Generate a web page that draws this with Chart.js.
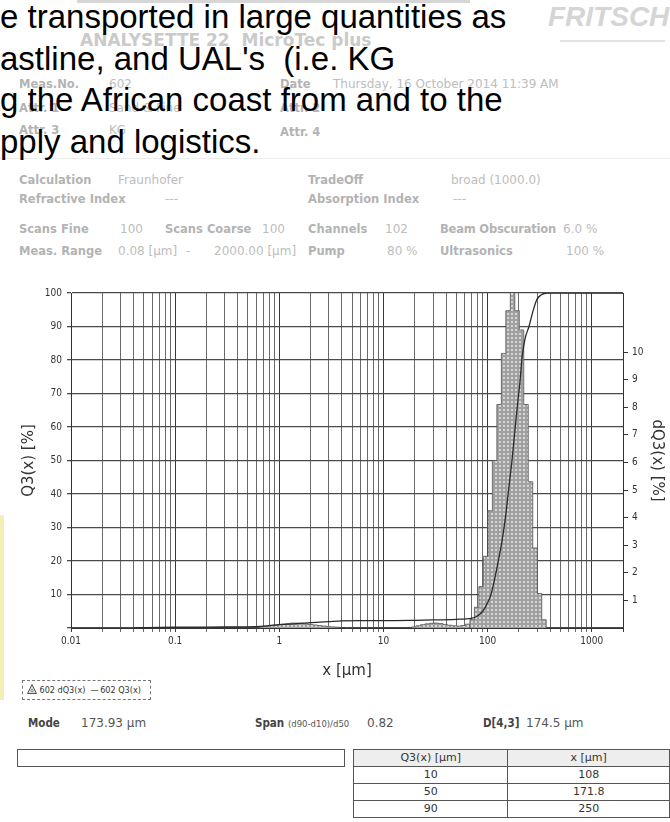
<!DOCTYPE html>
<html><head><meta charset="utf-8">
<script src="https://cdn.jsdelivr.net/npm/chart.js@4.4.0/dist/chart.umd.min.js"></script>
<style>
html,body{margin:0;padding:0;background:#fff;}
body{width:670px;height:822px;position:relative;overflow:hidden;font-family:"DejaVu Sans",sans-serif;}
.a{position:absolute;white-space:nowrap;line-height:14px;}
.lb{font-weight:bold;color:#b3b3b3;font-size:11.5px;}
.vl{color:#bdbdbd;font-size:12px;}
.bl{font-family:"DejaVu Sans Condensed","DejaVu Sans",sans-serif;font-weight:bold;color:#444;font-size:11.5px;}
.bv{color:#555;font-size:12px;}
#ov{position:absolute;left:0;top:-4px;font-family:"Liberation Sans",Arial,sans-serif;font-size:33px;line-height:41.5px;color:#000;z-index:5;white-space:nowrap;}
table{border-collapse:collapse;}
td{border:1px solid #555;text-align:center;font-size:11px;color:#333;height:16px;padding:0;}
</style></head>
<body>
<!-- faded report header -->
<div class="a" style="left:77px;top:0;width:393px;height:3px;background:#d6d6d6;"></div>
<div class="a" style="left:548px;top:1px;font:italic bold 28px 'Liberation Sans',Arial,sans-serif;color:#d5d5d5;line-height:32px;">FRITSCH</div>
<div class="a" style="left:560px;top:40px;width:105px;height:2px;background:#e2e2e2;"></div>
<div class="a" style="left:80px;top:30px;font-weight:bold;font-size:17px;color:#cacaca;line-height:20px;">ANALYSETTE 22&nbsp; MicroTec plus</div>

<div class="a lb" style="left:19px;top:77px;">Meas.No.</div><div class="a vl" style="left:109px;top:77px;">602</div>
<div class="a lb" style="left:280px;top:77px;">Date</div><div class="a vl" style="left:333px;top:77px;">Thursday, 16 October 2014 11:39 AM</div>
<div class="a lb" style="left:19px;top:101px;">Attr. 1</div><div class="a vl" style="left:109px;top:101px;">Sand &amp; Fine</div>
<div class="a lb" style="left:280px;top:101px;">Attr. 2</div>
<div class="a lb" style="left:19px;top:123px;">Attr. 3</div><div class="a vl" style="left:109px;top:123px;">KG</div>
<div class="a lb" style="left:280px;top:125px;">Attr. 4</div>
<div class="a" style="left:0;top:158px;width:670px;height:1px;background:#ececec;"></div>

<div class="a lb" style="left:19px;top:173px;">Calculation</div><div class="a vl" style="left:118px;top:173px;">Fraunhofer</div>
<div class="a lb" style="left:308px;top:173px;">TradeOff</div><div class="a vl" style="left:451px;top:173px;">broad (1000.0)</div>
<div class="a lb" style="left:19px;top:192px;">Refractive Index</div><div class="a vl" style="left:165px;top:192px;">---</div>
<div class="a lb" style="left:308px;top:192px;">Absorption Index</div><div class="a vl" style="left:453px;top:192px;">---</div>

<div class="a lb" style="left:19px;top:222px;">Scans Fine</div><div class="a vl" style="left:120px;top:222px;">100</div>
<div class="a lb" style="left:165px;top:222px;">Scans Coarse</div><div class="a vl" style="left:262px;top:222px;">100</div>
<div class="a lb" style="left:308px;top:222px;">Channels</div><div class="a vl" style="left:385px;top:222px;">102</div>
<div class="a lb" style="left:440px;top:222px;letter-spacing:-0.2px;">Beam Obscuration</div><div class="a vl" style="left:563px;top:222px;">6.0 %</div>
<div class="a lb" style="left:19px;top:244px;">Meas. Range</div><div class="a vl" style="left:118px;top:244px;">0.08 [µm]</div>
<div class="a vl" style="left:186px;top:244px;">-</div><div class="a vl" style="left:214px;top:244px;">2000.00 [µm]</div>
<div class="a lb" style="left:308px;top:244px;">Pump</div><div class="a vl" style="left:387px;top:244px;">80 %</div>
<div class="a lb" style="left:440px;top:244px;">Ultrasonics</div><div class="a vl" style="left:566px;top:244px;">100 %</div>

<!-- overlay slide text -->
<div id="ov">e transported in large quantities as<br>astline, and UAL's&nbsp; (i.e. KG<br>g the African coast from and to the<br>pply and logistics.</div>

<div class="a" style="left:0;top:515px;width:4px;height:185px;background:#f4efb4;"></div>

<canvas id="c" width="670" height="410" style="position:absolute;left:0;top:270px;width:670px;height:410px;"></canvas>

<!-- legend -->
<div class="a" style="left:22px;top:680px;width:123px;height:18px;border:1px dashed #777;font-family:'DejaVu Sans Condensed','DejaVu Sans',sans-serif;font-size:9px;color:#333;line-height:18px;padding-left:4px;">
<svg width="10" height="10" style="vertical-align:-1px"><polygon points="5,0.5 9.5,9.5 0.5,9.5" fill="#ddd" stroke="#555" stroke-width="1"/><circle cx="5" cy="6.5" r="1.2" fill="none" stroke="#666" stroke-width="0.6"/></svg>
602 dQ3(x)&nbsp; <span style="letter-spacing:-1px">—</span> 602 Q3(x)</div>

<!-- statistics -->
<div class="a bl" style="left:28px;top:716px;">Mode</div><div class="a bv" style="left:81px;top:716px;">173.93 µm</div>
<div class="a bl" style="left:255px;top:716px;">Span</div><div class="a" style="left:288px;top:717px;font-size:8.5px;color:#555;">(d90-d10)/d50</div><div class="a bv" style="left:367px;top:716px;">0.82</div>
<div class="a bl" style="left:483px;top:716px;">D[4,3]</div><div class="a bv" style="left:526px;top:716px;">174.5 µm</div>
<div class="a" style="left:17px;top:749px;width:326px;height:16px;border:1px solid #555;"></div>
<table class="a" style="left:353px;top:749px;">
<tr><td style="width:162px;background:#eeeeee;">Q3(x) [µm]</td><td style="width:172px;background:#eeeeee;">x [µm]</td></tr>
<tr><td>10</td><td>108</td></tr>
<tr><td>50</td><td>171.8</td></tr>
<tr><td>90</td><td>250</td></tr>
</table>

<script>
// ---- data ----
const xDecades = [0.01, 0.1, 1, 10, 100, 1000];
const xMinorSteps = [1, 2, 3, 4, 5, 6, 7, 8, 9];
const xEnd = 2000;
const leftTicks = [0, 10, 20, 30, 40, 50, 60, 70, 80, 90, 100];
const rightTicks = [1, 2, 3, 4, 5, 6, 7, 8, 9, 10];
const rightMax = 12.14;

// histogram channels (µm edges) and dQ3 values [%]
const lowEdges = [0.64, 0.70, 0.78, 0.86, 0.95, 1.05, 1.16, 1.28, 1.41, 1.56, 1.72, 1.90, 2.10, 2.32, 2.56, 2.82, 3.12, 3.44, 3.80];
const lowDq3   = [0.04, 0.06, 0.08, 0.10, 0.12, 0.14, 0.16, 0.18, 0.18, 0.17, 0.15, 0.13, 0.11, 0.09, 0.07, 0.05, 0.04, 0.03];
const midEdges = [18.63, 20.57, 22.72, 25.09, 27.71, 30.60, 33.80, 37.33, 41.22, 45.53, 50.28, 55.53, 61.32, 67.7];
const midDq3   = [0.04, 0.08, 0.12, 0.15, 0.17, 0.18, 0.16, 0.13, 0.10, 0.08, 0.07, 0.09, 0.14];
const mainEdges = [67.7, 74.8, 82.6, 91.2, 100.8, 111.3, 122.9, 135.7, 149.9, 165.5, 182.8, 201.9, 222.9, 246.2, 271.9, 300.3, 331.6, 366.3];
const mainDq3   = [0.3, 0.75, 1.5, 2.6, 4.25, 6.07, 8.1, 9.95, 11.5, 12.2, 11.5, 10.8, 8.1, 5.3, 2.9, 1.25, 0.3];

// cumulative Q3(x) [%]
const q3X = [0.04, 0.1, 0.3, 0.6, 0.8, 1, 1.5, 2, 3, 4, 6, 10, 20, 30, 50, 70, 80, 90, 100, 108, 115, 125, 137, 150, 160, 171.8, 182, 193, 205, 215, 230, 250, 270, 297, 330, 374, 2000];
const q3Y = [0.05, 0.25, 0.3, 0.4, 0.7, 1.0, 1.3, 1.6, 1.9, 2.1, 2.2, 2.2, 2.3, 2.4, 2.6, 2.9, 3.6, 5.0, 7.5, 10, 13.5, 19, 25.5, 34, 41.8, 50, 58, 66, 73.5, 81, 86.5, 90, 94, 98, 99.5, 100, 100];

// ---- build ----
function stepData(edges, vals) {
  const pts = [{x: edges[0], y: 0}];
  edges.forEach((e, i) => pts.push({x: e, y: i < vals.length ? vals[i] : 0}));
  return pts;
}
function makePattern() {
  const c = document.createElement('canvas'); c.width = 4; c.height = 4;
  const g = c.getContext('2d');
  g.fillStyle = '#d6d6d6'; g.fillRect(0, 0, 4, 4);
  g.strokeStyle = '#6a6a6a'; g.lineWidth = 0.8;
  g.beginPath(); g.arc(2, 2, 1.3, 0, Math.PI * 2); g.stroke();
  return g.createPattern(c, 'repeat');
}
const pat = makePattern();
const xGrid = [];
xDecades.forEach(d => xMinorSteps.forEach(m => { const v = +(d * m).toPrecision(6); if (v <= xEnd) xGrid.push(v); }));
xGrid.push(xEnd);

const histStyle = {yAxisID: 'y2', stepped: true, fill: 'origin', backgroundColor: pat, borderColor: '#555', borderWidth: 0.8, pointRadius: 0, order: 2};
const tickFont = {family: "'DejaVu Sans Condensed','DejaVu Sans',sans-serif", size: 10};
const titleFont = {family: "'DejaVu Sans','Verdana',sans-serif", size: 15};

new Chart(document.getElementById('c'), {
  type: 'line',
  data: {datasets: [
    Object.assign({label: '602 dQ3(x)', data: stepData(mainEdges, mainDq3)}, histStyle),
    Object.assign({label: '602 dQ3(x) low', data: stepData(lowEdges, lowDq3)}, histStyle),
    Object.assign({label: '602 dQ3(x) mid', data: stepData(midEdges, midDq3)}, histStyle),
    {label: '602 Q3(x)', data: q3X.map((x, i) => ({x: x, y: q3Y[i]})), yAxisID: 'y', borderColor: '#2a2a2a', borderWidth: 1.3,
     pointRadius: 0, fill: false, cubicInterpolationMode: 'monotone', order: 1}
  ]},
  options: {
    responsive: false, animation: false, events: [],
    layout: {padding: {top: 23, left: 0, right: 0, bottom: 0}},
    plugins: {legend: {display: false}, tooltip: {enabled: false}},
    scales: {
      x: {
        type: 'logarithmic', min: 0.01, max: xEnd, position: 'bottom',
        afterBuildTicks: s => { s.ticks = xGrid.map(v => ({value: v})); },
        ticks: {autoSkip: false, maxRotation: 0, minRotation: 0, padding: 3, color: '#333', font: tickFont,
          callback: v => xDecades.includes(v) ? String(v) : ''},
        grid: {color: c => (c.tick && (xDecades.includes(c.tick.value) || c.tick.value === xEnd)) ? '#3a3a3a' : '#6a6a6a',
               lineWidth: 1, tickLength: 4},
        border: {color: '#333', width: 1},
        title: {display: true, text: 'x [µm]', color: '#333', font: titleFont, padding: {top: 6, bottom: 0}},
        afterFit: s => { s.height = 52; }
      },
      y: {
        position: 'left', min: 0, max: 100,
        afterBuildTicks: s => { s.ticks = leftTicks.map(v => ({value: v})); },
        ticks: {color: '#333', font: tickFont, padding: 5, callback: v => v === 0 ? '' : String(v)},
        grid: {color: '#4a4a4a', lineWidth: 1.3, tickLength: 4},
        border: {color: '#333', width: 1},
        title: {display: true, text: 'Q3(x) [%]', color: '#333', font: titleFont, padding: {top: 20, bottom: 0}},
        afterFit: s => { s.width = 71; }
      },
      y2: {
        position: 'right', min: 0, max: rightMax,
        afterBuildTicks: s => { s.ticks = rightTicks.map(v => ({value: v})); },
        ticks: {color: '#333', font: tickFont, padding: 4, callback: v => String(v)},
        grid: {drawOnChartArea: false, color: '#333', tickLength: 5},
        border: {color: '#333', width: 1},
        title: {display: true, text: 'dQ3(x) [%]', color: '#333', font: titleFont, padding: {top: 4, bottom: 0}},
        afterFit: s => { s.width = 47; }
      }
    }
  }
});
</script>
</body></html>
